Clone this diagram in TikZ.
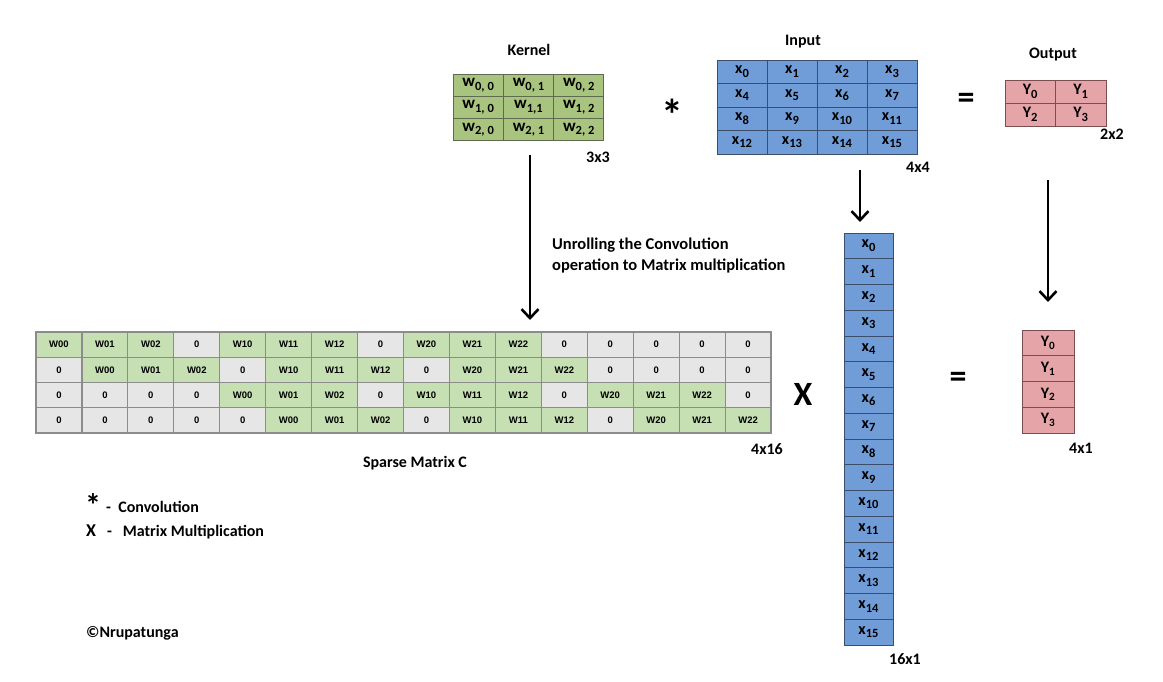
\documentclass[tikz,border=0pt]{standalone}
\usepackage{fontspec}
\setmainfont{Carlito}
\newfontfamily\cellfont{Liberation Sans}
\usetikzlibrary{arrows.meta,positioning}
\definecolor{kgreen}{HTML}{A9C47F}
\definecolor{kline}{HTML}{5E6B4E}
\definecolor{iblue}{HTML}{709CD8}
\definecolor{iline}{HTML}{3C4E6A}
\definecolor{opink}{HTML}{E5A4A8}
\definecolor{oline}{HTML}{7A4E50}
\definecolor{sgreen}{HTML}{C6E0B4}
\definecolor{sgray}{HTML}{E7E6E6}
\definecolor{sline}{HTML}{8C8C8C}
\newcommand{\bigsub}[1]{\raisebox{-0.45ex}{\fontsize{12.5}{12.5}\selectfont #1}}

\begin{document}
\begin{tikzpicture}[x=1pt, y=-1pt,
  lbl/.style={font=\fontsize{16}{18}\selectfont\bfseries, inner sep=0pt},
  kcell/.style={draw=kline, fill=kgreen, line width=0.9pt, minimum width=50.3pt,
                minimum height=22.3pt, inner sep=0pt, font=\fontsize{17}{17}\selectfont\bfseries},
  icell/.style={draw=iline, fill=iblue, line width=0.9pt, minimum width=50pt,
                minimum height=23.5pt, inner sep=0pt, font=\fontsize{16}{16}\selectfont\bfseries},
  ocell/.style={draw=oline, fill=opink, line width=0.9pt, minimum width=50.5pt,
                minimum height=23pt, inner sep=0pt, font=\fontsize{16}{16}\selectfont\bfseries},
  zcell/.style={draw=sline, fill=sgray, line width=1.2pt, minimum width=45.94pt,
                minimum height=25.25pt, inner sep=0pt, font=\fontsize{9.5}{10}\cellfont\bfseries},
  wcell/.style={zcell, fill=sgreen},
  op/.style={font=\fontsize{30}{30}\selectfont\bfseries, inner sep=0pt},
  arr/.style={-{Straight Barb[length=9pt, width=17pt, line width=2.6pt]}, line width=2.6pt}]
\useasboundingbox (0,0) rectangle (1163,682);

% kernel 3x3
\node[lbl] (kern-title) at (529,50) {Kernel};
\foreach \r in {0,1,2}
  \foreach \c in {0,1,2} {
    \ifnum\r\c=11 \def\sub{1,1}\else \edef\sub{\r, \c}\fi
    \node[kcell] (kern-\r-\c) at (453+50.3*\c+25.15, 74+22.3*\r+11.15) {w\bigsub{\sub}};
  }
\node[lbl] (kern-size) at (598,157) {3x3};

\node[op, font=\fontsize{44}{44}\selectfont\bfseries] (conv) at (672,115) {*};

% input 4x4
\node[lbl] (inp-title) at (803,42) {Input};
\foreach \r in {1,...,4}
  \foreach \c in {1,...,4} {
    \pgfmathtruncatemacro{\k}{4*(\r-1)+\c-1}
    \node[icell] (inp-\r-\c) at (717+50*\c-25, 60+23.5*\r-11.75) {x\bigsub{\k}};
  }
\node[lbl] (inp-size) at (918,167) {4x4};

\node[op, font=\fontsize{34}{34}\selectfont\bfseries] (eq-top) at (966,101) {=};

% output 2x2
\node[lbl] (outp-title) at (1053,55) {Output};
\foreach \r in {1,2}
  \foreach \c in {1,2} {
    \pgfmathtruncatemacro{\k}{2*(\r-1)+\c-1}
    \node[ocell] (outp-\r-\c) at (1005+50.5*\c-25.25, 80+23*\r-11.5) {Y\bigsub{\k}};
  }
\node[lbl] (outp-size) at (1112,134) {2x2};

% unrolling arrows
\coordinate (kern-out) at (530,155);
\coordinate (sp-in) at (530,320);
\draw[arr] (kern-out) -- (sp-in);
\node[lbl, anchor=west, align=left, font=\fontsize{16.5}{21}\selectfont\bfseries] (unroll)
  at (552,255) {Unrolling the Convolution\\operation to Matrix multiplication};
\coordinate (inp-out) at (860,170);
\coordinate (xcol-in) at (860,222);
\draw[arr] (inp-out) -- (xcol-in);
\coordinate (outp-out) at (1048,180);
\coordinate (ycol-in) at (1048,302);
\draw[arr] (outp-out) -- (ycol-in);

% sparse matrix C
\foreach \r/\row in {
  1/{W00,W01,W02,0,W10,W11,W12,0,W20,W21,W22,0,0,0,0,0},
  2/{0,W00,W01,W02,0,W10,W11,W12,0,W20,W21,W22,0,0,0,0},
  3/{0,0,0,0,W00,W01,W02,0,W10,W11,W12,0,W20,W21,W22,0},
  4/{0,0,0,0,0,W00,W01,W02,0,W10,W11,W12,0,W20,W21,W22}}
  \foreach \v [count=\c] in \row {
    \edef\tmp{\v}\def\zchar{0}
    \ifx\tmp\zchar \def\cst{zcell}\else \def\cst{wcell}\fi
    \node[\cst] (sp-\r-\c) at (36+45.94*\c-22.97, 332+25.25*\r-12.62) {\v};
  }
\node[lbl] (sp-title) at (415,463) {Sparse Matrix C};
\node[lbl] (sp-size) at (767,449) {4x16};

\node[op, font=\fontsize{34}{34}\selectfont\bfseries] (mult) at (803,394) {X};

% column vectors
\foreach \i in {1,...,16} {
  \pgfmathtruncatemacro{\k}{\i-1}
  \node[icell, minimum width=49pt, minimum height=25.75pt] (xcol-\i)
    at (868.5, 233+25.75*\i-12.875) {x\bigsub{\k}};
}
\node[lbl] (xcol-size) at (905,659) {16x1};

\node[op, font=\fontsize{34}{34}\selectfont\bfseries] (eq-mid) at (958,380) {=};

\foreach \i in {1,...,4} {
  \pgfmathtruncatemacro{\k}{\i-1}
  \node[ocell, minimum width=52pt, minimum height=25.75pt] (ycol-\i)
    at (1048, 330+25.75*\i-12.875) {Y\textsubscript{\k}};
}
\node[lbl] (ycol-size) at (1081,448) {4x1};

% legend
\node[op, font=\fontsize{32}{32}\selectfont\bfseries] (leg-conv) at (93,505) {*};
\node[lbl, anchor=west] (leg-conv-txt) at (106,507) {-\ \ Convolution};
\node[lbl, anchor=west, font=\fontsize{18}{18}\selectfont\bfseries] (leg-mult) at (86,531) {X};
\node[lbl, anchor=west] (leg-mult-txt) at (107,532) {-\ \ \ Matrix Multiplication};
\node[lbl, anchor=west] (credit) at (86,633) {\textcopyright Nrupatunga};
\end{tikzpicture}
\end{document}
